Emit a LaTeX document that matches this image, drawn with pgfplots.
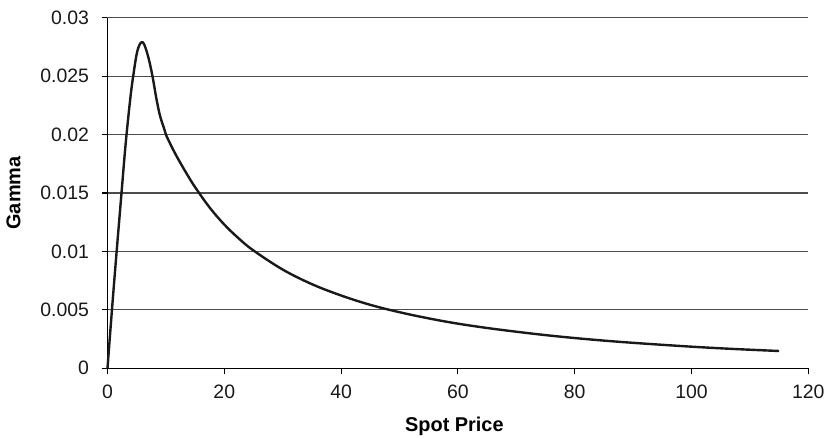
\documentclass[border=0pt]{standalone}
\usepackage{pgfplots}
\pgfplotsset{compat=1.18}
\usepackage{fontspec}
\setmainfont{Liberation Sans}
\begin{document}
\begin{tikzpicture}
\useasboundingbox (-107.5bp,-70.7bp) rectangle (720.5bp,368.3bp);
\begin{axis}[
  scale only axis,
  width=700.8bp, height=350.6bp,
  xmin=0, xmax=120, ymin=0, ymax=0.03,
  scaled y ticks=false, scaled x ticks=false,
  axis lines=left,
  axis line style={-, line width=1.1bp, black},
  tick style={line width=1.1bp, black},
  major tick length=6bp,
  tick align=outside,
  xtick={0,20,40,60,80,100,120},
  xticklabels={0,20,40,60,80,100,120},
  ytick={0,0.005,0.01,0.015,0.02,0.025,0.03},
  yticklabels={0,0.005,0.01,0.015,0.02,0.025,0.03},
  ymajorgrids,
  major grid style={line width=1.2bp, black!70},
  ticklabel style={font=\fontsize{19.5}{24}\selectfont, text=black!90},
  xticklabel style={yshift=-7bp},
  yticklabel style={xshift=-9bp},
  xlabel={Spot Price},
  ylabel={Gamma},
  label style={font=\fontsize{20}{24}\selectfont\bfseries},
  xlabel style={at={(axis description cs:0.495,-0.166)}, anchor=center},
  ylabel style={at={(axis description cs:-0.134,0.5)}, anchor=center, rotate=0},
  clip=false,
]
\addplot[line width=2.4bp, black!90, smooth, tension=0.6] coordinates {
(0,0) (0.7,0.0046) (1.5,0.0096) (2.4,0.0150) (3.0,0.0186) (3.5,0.0212) (4.0,0.0235) (4.4,0.0250) (5.0,0.0269) (5.5,0.0277) (5.9,0.0279) (6.3,0.0277) (7.0,0.0266) (7.7,0.0250) (8.4,0.0230) (9.0,0.0216) (9.7,0.0205) (10,0.0200)
(11,0.01895) (12,0.0180) (13.5,0.0167) (15,0.0155) (17.5,0.01375) (20,0.0123) (22.5,0.0111) (25,0.01008) (30,0.00845) (35,0.0072) (40,0.00623) (45,0.00543) (50,0.0048) (55,0.00427) (60,0.00382) (65,0.00345) (70,0.00313) (75,0.00284) (80,0.00259) (85,0.00237) (90,0.00218) (95,0.00201) (100,0.00185) (105,0.00171) (110,0.00159) (115,0.00148)
};
\end{axis}
\end{tikzpicture}
\end{document}
